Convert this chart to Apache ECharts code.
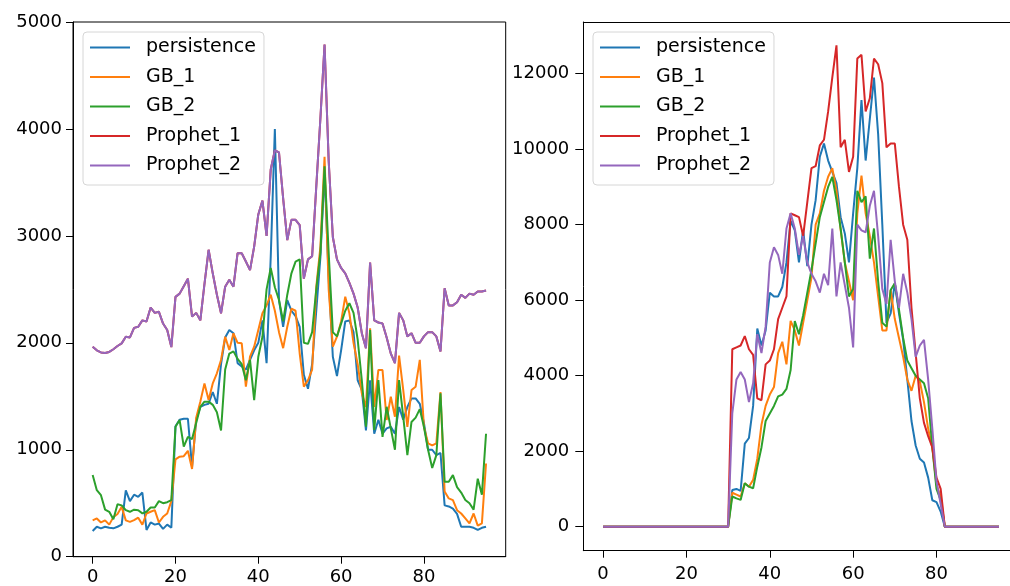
<!DOCTYPE html>
<html><head><meta charset="utf-8">
<script src="https://cdn.jsdelivr.net/npm/echarts@6/dist/echarts.min.js"></script>
<style>html,body{margin:0;padding:0;background:#fff}#c{width:1010px;height:586px}</style>
</head><body><div id="c"></div>
<script>
const seriesNames = ['persistence', 'GB_1', 'GB_2', 'Prophet_1', 'Prophet_2'];
const colors = ['#1f77b4', '#ff7f0e', '#2ca02c', '#d62728', '#9467bd'];
const xTicks = [0, 20, 40, 60, 80];
const leftYTicks = [0, 1000, 2000, 3000, 4000, 5000];
const rightYTicks = [0, 2000, 4000, 6000, 8000, 10000, 12000];

// Left panel (x = 0..95)
const leftPersistence = [240,280,265,280,270,265,280,300,620,520,580,560,600,250,320,300,310,260,300,270,
1220,1280,1290,1290,840,1280,1400,1420,1430,1540,1430,1800,2050,2120,2090,1810,1780,1750,1840,1930,
2000,2210,1810,2800,4000,2400,2150,2400,2300,2250,2150,1700,1570,1800,2300,2800,3600,2600,1870,1690,
1930,2200,2210,2100,1650,1560,1180,1650,1150,1280,1150,1200,1215,1150,1400,1280,1400,1480,1480,1430,
1250,1000,1000,950,970,480,470,450,400,280,280,280,270,250,270,280];
const leftGB1 = [340,358,320,340,300,370,400,466,340,326,342,365,300,404,420,435,320,373,404,520,
910,935,940,990,820,1300,1450,1620,1465,1620,1715,1840,2057,1933,2089,2000,1996,1590,1870,1964,
2120,2276,2350,2450,2300,2100,1950,2150,2320,2300,1900,1590,1650,1750,2520,2900,3740,2500,1964,2057,
2200,2432,2276,2000,1800,1528,1400,2136,1400,1746,1746,1278,1496,1309,1880,1560,1215,1558,1590,1840,
1215,1060,1040,1060,1540,610,545,529,435,404,358,311,404,290,311,872];
const leftGB2 = [763,622,575,440,420,350,490,480,435,420,440,435,405,420,460,460,520,500,510,530,
1215,1278,1030,1120,1100,1250,1400,1450,1450,1420,1350,1180,1750,1900,1920,1850,1800,1650,1840,1465,
1870,2057,2500,2700,2520,2400,2200,2450,2650,2760,2780,2000,1990,2100,2500,2840,3650,2840,2100,2060,
2180,2300,2370,2280,2030,1650,1215,2120,1184,1652,1121,1402,1200,1000,1652,1309,950,1260,1300,1380,
1215,1000,830,950,1528,700,700,763,650,600,530,500,440,730,580,1150];
const leftProphet1 = [1964,1930,1910,1905,1915,1940,1970,1995,2057,2050,2140,2150,2210,2200,2330,2280,2290,2180,2120,1960,
2430,2460,2530,2600,2245,2280,2210,2550,2870,2650,2450,2276,2525,2590,2525,2838,2838,2760,2680,2900,
3200,3330,3000,3620,3800,3780,3350,2960,3150,3150,3100,2600,2780,2810,3460,4100,4790,3700,2990,2780,
2700,2650,2560,2460,2330,2090,1950,2750,2210,2190,2180,2050,1900,1810,2280,2210,2060,2090,2000,2000,
2060,2100,2100,2060,1920,2510,2350,2350,2380,2450,2420,2460,2450,2480,2480,2490];
const leftProphet2 = [1964,1930,1910,1905,1915,1940,1970,1995,2057,2050,2140,2150,2210,2200,2330,2280,2290,2180,2120,1960,
2430,2460,2530,2600,2245,2280,2210,2550,2870,2650,2450,2276,2525,2590,2525,2838,2838,2760,2680,2900,
3200,3330,3000,3620,3800,3780,3350,2960,3150,3150,3100,2600,2780,2810,3460,4100,4790,3700,2990,2780,
2700,2650,2560,2460,2330,2090,1950,2750,2210,2190,2180,2050,1900,1810,2280,2210,2060,2090,2000,2000,
2060,2100,2100,2060,1920,2510,2350,2350,2380,2450,2420,2460,2450,2480,2480,2490];

// Right panel (x = 0..95)
const rightPersistence = [0,0,0,0,0,0,0,0,0,0,0,0,0,0,0,0,0,0,0,0,0,0,0,0,0,0,0,0,0,0,0,
970,1000,950,2200,2350,3200,5250,4800,5200,6200,6100,6100,6350,7000,8100,7850,7000,7860,6900,8000,
8650,9800,10150,9700,9400,9100,8200,7770,7000,8300,9500,11300,9700,10800,11900,10400,8000,5400,5650,6450,
5650,4950,3900,2800,2150,1800,1700,1300,700,650,400,
0,0,0,0,0,0,0,0,0,0,0,0,0,0];
const rightGB1 = [0,0,0,0,0,0,0,0,0,0,0,0,0,0,0,0,0,0,0,0,0,0,0,0,0,0,0,0,0,0,0,
900,850,800,1150,1060,1240,1800,2700,3200,3500,3700,4600,4900,4300,5450,5200,4800,5400,6000,6600,
8000,8300,8900,9270,9500,8900,7860,7000,6500,6000,8300,9300,8300,7700,7000,6100,5200,5200,6270,5500,
5000,4500,3900,3600,4000,3850,3300,2600,2100,1100,800,
0,0,0,0,0,0,0,0,0,0,0,0,0,0];
const rightGB2 = [0,0,0,0,0,0,0,0,0,0,0,0,0,0,0,0,0,0,0,0,0,0,0,0,0,0,0,0,0,0,0,
800,750,710,1150,1060,1020,1590,2100,2800,3000,3200,3450,3500,3650,4150,5450,5100,5600,6200,6800,
7500,8200,8600,9000,9270,8650,7900,7000,6100,6300,8900,8600,8750,7100,7900,6500,5400,5300,6270,6450,
5750,5000,4400,4200,4000,3900,3800,3400,2100,1000,700,
0,0,0,0,0,0,0,0,0,0,0,0,0,0];
const rightProphet1 = [0,0,0,0,0,0,0,0,0,0,0,0,0,0,0,0,0,0,0,0,0,0,0,0,0,0,0,0,0,0,0,
4700,4750,4800,5050,4700,4550,3400,3350,4300,4400,4700,5500,5800,6100,8300,8250,8200,7700,8600,9500,
9550,10100,10250,11000,11900,12750,10050,10250,9400,9800,12400,12500,11000,11350,12400,12250,11750,10050,10150,10150,
9000,8000,7600,5800,4600,3400,2750,2400,2100,1300,1000,
0,0,0,0,0,0,0,0,0,0,0,0,0,0];
const rightProphet2 = [0,0,0,0,0,0,0,0,0,0,0,0,0,0,0,0,0,0,0,0,0,0,0,0,0,0,0,0,0,0,0,
3000,3900,4100,3900,3300,3800,5100,4600,5300,7000,7400,7200,6700,7900,8300,7900,7200,7700,7000,6700,
6500,6200,6700,6400,7900,6100,7000,6400,5800,4750,8000,7850,7800,8500,8900,7700,6300,5900,7600,6500,
5800,6700,6200,5500,4500,4800,4950,3900,2600,1200,600,
0,0,0,0,0,0,0,0,0,0,0,0,0,0];

const leftData = [leftPersistence, leftGB1, leftGB2, leftProphet1, leftProphet2];
const rightData = [rightPersistence, rightGB1, rightGB2, rightProphet1, rightProphet2];

const FONT = 'DejaVu Sans';
const labelStyle = {fontFamily: FONT, fontSize: 18, color: '#000', formatter: function (v) { return String(v); }};

function xAxisCfg(gi, margin) {
  return {
    gridIndex: gi, type: 'value', min: -4.75, max: 99.75, position: 'bottom',
    axisLine: {show: true, onZero: false, lineStyle: {color: '#000', width: 1}},
    axisTick: {show: true, customValues: xTicks, length: 7, lineStyle: {color: '#000', width: 1}},
    axisLabel: Object.assign({customValues: xTicks, margin: margin}, labelStyle),
    splitLine: {show: false}
  };
}
function yAxisCfg(gi, min, max, ticks, margin, tickLen) {
  return {
    gridIndex: gi, type: 'value', min: min, max: max, position: 'left',
    axisLine: {show: true, onZero: false, lineStyle: {color: '#000', width: 1}},
    axisTick: {show: true, customValues: ticks, length: tickLen, lineStyle: {color: '#000', width: 1}},
    axisLabel: Object.assign({customValues: ticks, margin: margin}, labelStyle),
    splitLine: {show: false}
  };
}
// plain top spine for the right panel (its right spine lies beyond the picture edge)
const topSpine = {
  gridIndex: 1, type: 'value', min: -4.75, max: 99.75, position: 'top',
  axisLine: {show: true, onZero: false, lineStyle: {color: '#000', width: 1}},
  axisTick: {show: false}, axisLabel: {show: false}, splitLine: {show: false}
};
function legendCfg(left, top) {
  return {
    orient: 'vertical', left: left, top: top, data: seriesNames,
    icon: 'rect', symbolKeepAspect: false,
    itemWidth: 40, itemHeight: 2.2, itemGap: 10.5,
    padding: [6, 8, 10, 7],
    backgroundColor: 'rgba(255,255,255,0.8)', borderColor: '#d6d6d6', borderWidth: 1, borderRadius: 4,
    textStyle: {fontFamily: FONT, fontSize: 19, color: '#000', lineHeight: 19, padding: [0, 0, 0, 11]},
    selectedMode: false
  };
}

const series = [];
[leftData, rightData].forEach(function (group, gi) {
  group.forEach(function (arr, k) {
    series.push({
      name: seriesNames[k], type: 'line', xAxisIndex: gi, yAxisIndex: gi,
      data: arr.map(function (v, i) { return [i, v]; }),
      symbol: 'none', showSymbol: false,
      lineStyle: {color: colors[k], width: 2},
      itemStyle: {color: colors[k]},
      emphasis: {disabled: true}, animation: false, z: 2 + k
    });
  });
});

const chart = echarts.init(document.getElementById('c'), null, {renderer: 'canvas'});
chart.setOption({
  animation: false,
  backgroundColor: '#fff',
  grid: [
    {left: 73, top: 22, width: 432.7, height: 534.7, show: true, borderColor: '#000', borderWidth: 1, backgroundColor: 'transparent', containLabel: false, outerBoundsMode: 'none'},
    {left: 583.3, top: 22, width: 435.5, height: 528.7, show: false, containLabel: false, outerBoundsMode: 'none'}
  ],
  xAxis: [xAxisCfg(0, 12), xAxisCfg(1, 15), topSpine],
  yAxis: [yAxisCfg(0, 0, 5000, leftYTicks, 11, 7), yAxisCfg(1, -636, 13370, rightYTicks, 14, 8)],
  legend: [legendCfg(83, 32), legendCfg(593, 32)],
  tooltip: {show: false},
  series: series
});
</script></body></html>
